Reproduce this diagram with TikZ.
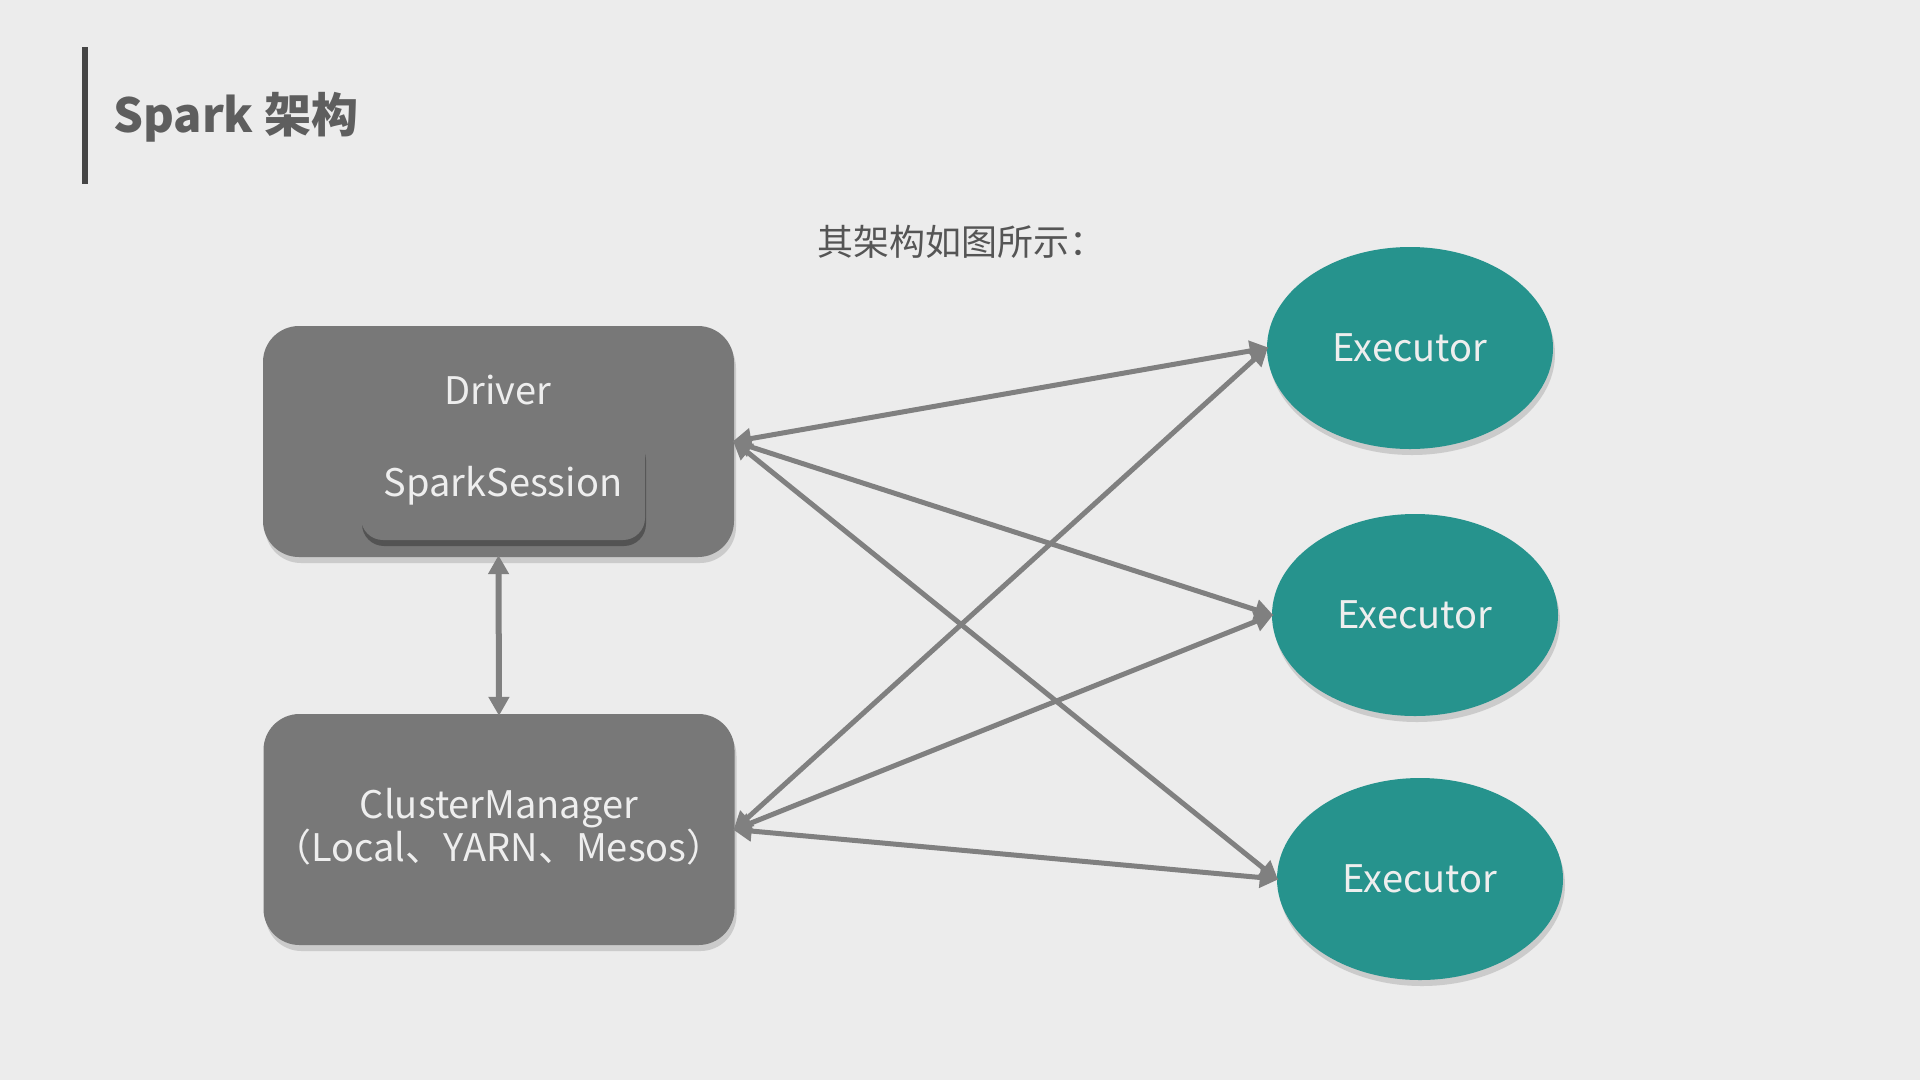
\documentclass[tikz,border=0pt]{standalone}
\usepackage{fontspec}
\setmainfont{Noto Sans CJK SC}
\usepackage{tikz}
\usetikzlibrary{arrows.meta,shapes.geometric,shadows}
\definecolor{pagebg}{HTML}{ECECEC}
\definecolor{boxgray}{HTML}{787878}
\definecolor{execteal}{HTML}{26938D}
\definecolor{linegray}{HTML}{808080}
\definecolor{boxtext}{HTML}{EEEEEE}
\definecolor{titlegray}{HTML}{5E5E5E}
\definecolor{bargray}{HTML}{454545}
\tikzstyle{soft shadow} = [drop shadow={opacity=0.3,shadow xshift=2pt,shadow yshift=-6pt}]
\tikzstyle{bigbox} = [rectangle,rounded corners=36pt,fill=boxgray,minimum width=471pt,minimum height=231pt,inner sep=0pt,soft shadow]
\tikzstyle{innerbox} = [rectangle,rounded corners=22pt,fill=boxgray,minimum width=284pt,minimum height=108pt,inner sep=0pt,drop shadow={fill=black,opacity=0.3,shadow xshift=1pt,shadow yshift=-6pt}]
\tikzstyle{executor} = [ellipse,fill=execteal,minimum width=286pt,minimum height=202pt,inner sep=0pt,soft shadow]
\tikzstyle{label} = [text=boxtext,font=\fontsize{38}{43}\selectfont,align=center]
\tikzstyle{link} = [draw=linegray,line width=5pt,{Triangle[length=19pt,width=20pt]}-{Triangle[length=19pt,width=20pt]},shorten <=-2pt,shorten >=-2pt]

\begin{document}
\begin{tikzpicture}[x=1pt,y=-1pt]
    \fill[pagebg] (0,0) rectangle (1920,1080);
    \useasboundingbox (0,0) rectangle (1920,1080);
    % title
    \draw[bargray,line width=6pt] (85,47) -- (85,184);
    \node[anchor=base west,inner sep=0pt,text=titlegray,font=\fontsize{47}{56}\selectfont\bfseries] (title) at (113,132) {Spark 架构};
    \node[text=titlegray!90!black,font=\fontsize{36}{40}\selectfont] (subtitle) at (961,242) {其架构如图所示：};
    % driver and cluster manager
    \node[bigbox] (driver) at (498.5,441.5) {};
    \node[label] (drivername) at (498,390) {Driver};
    \node[innerbox] (session) at (503,486) {};
    \node[label] at (session) {SparkSession};
    \node[bigbox] (manager) at (499,829.5) {};
    \node[label] (managername) at (499,827) {ClusterManager\\（Local、YARN、Mesos）};
    % executors
    \foreach \pos/\name in {{(1410,348)/1}, {(1415,615)/2}, {(1420,879)/3}}
        \node[executor] (exec\name) at \pos {};
    \foreach \name in {1,2,3}
        \node[label] at (exec\name) {Executor};
    % connectors
    \path[link,line width=6pt] (driver.south) -- (manager.north);
    \foreach \src in {driver,manager}
        \foreach \dest in {1,2,3}
            \path[link] (\src.east) -- (exec\dest.west);
\end{tikzpicture}
\end{document}
